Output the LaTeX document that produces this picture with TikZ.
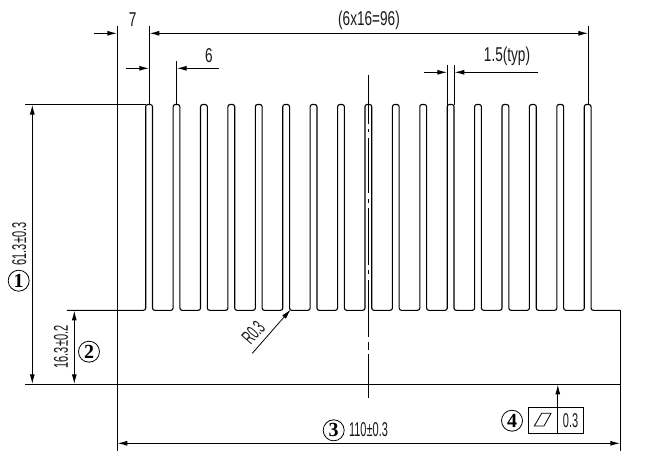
\documentclass[tikz,border=0pt]{standalone}
\usepackage{fontspec}
\setmainfont{Liberation Sans}
\newfontfamily\serifnum{Liberation Serif}
\usetikzlibrary{arrows.meta}
\tikzset{
  part/.style={line width=1.1pt,black},
  dimline/.style={line width=1.1pt,black},
  headtip/.tip={Latex[length=10pt,width=5pt]},
  tip/.style={-headtip},
  twotip/.style={headtip-headtip},
  dimtext/.style={inner sep=0pt,font=\fontsize{20}{20}\selectfont,text=black!90},
  callout/.style={circle,draw,line width=.8pt,minimum size=21pt,inner sep=0pt,font=\serifnum\bfseries\fontsize{20}{20}\selectfont},
}
\newcommand{\nar}[1]{\scalebox{0.68}[1]{#1}}
\newcommand{\narr}[1]{\scalebox{0.55}[1]{#1}}
\begin{document}
\begin{tikzpicture}[x=1pt,y=-1pt]
\useasboundingbox (0,0) rectangle (648,466);
\fill[white] (0,0) rectangle (648,466);
% key coordinates
\coordinate (L) at (117.3,384.3);
\coordinate (R) at (620.3,384.3);
\coordinate (Top) at (145.7,104.5);
% profile
\def\pitch{27.41}
\draw[part,rounded corners=2.2pt]
  (67,310.3) -- (145.7,310.3)
  \foreach \i in {0,...,16} {
    -- ({145.7+\pitch*\i},104.5) -- ({152.5+\pitch*\i},104.5) -- ({152.5+\pitch*\i},310.3)
    -- ({\i<16 ? 145.7+\pitch*(\i+1) : 620.3},310.3)
  } ;
\draw[part] (620.3,310.3) -- (620.3,450.7);
\draw[part] (25.3,384.3) -- (620.3,384.3);
\draw[part] (25.3,104.5) -- (145.7,104.5);
\draw[part] (117.3,26) -- (117.3,450.7);
% centre line
\draw[part] (368.3,75) -- (368.3,398);
\draw[white,line width=1.8pt] (368.3,124) -- (368.3,128.5) (368.3,132) -- (368.3,138)
  (368.3,193) -- (368.3,199) (368.3,203) -- (368.3,208)
  (368.3,265) -- (368.3,270) (368.3,274) -- (368.3,280)
  (368.3,337) -- (368.3,342) (368.3,350) -- (368.3,354);
% extension lines
\draw[dimline] (149.3,26) -- (149.3,104.5);
\draw[dimline] (176.6,61) -- (176.6,104.5);
\draw[dimline] (588.4,26) -- (588.4,104.5);
\draw[dimline] (447.3,65) -- (447.3,104.5);
\draw[dimline] (454.3,65) -- (454.3,104.5);
% top dimensions
\coordinate (a1) at (94,33.3);
\coordinate (a2) at (117.3,33.3);
\coordinate (a3) at (149.3,33.3);
\coordinate (a4) at (588.4,33.3);
\draw[dimline,tip] (a1) -- (a2);
\draw[dimline,twotip] (a3) -- (a4);
\coordinate (b1) at (126,68.3);
\coordinate (b2) at (149.3,68.3);
\coordinate (b3) at (176.6,68.3);
\coordinate (b4) at (218.7,68.3);
\draw[dimline,tip] (b1) -- (b2);
\draw[dimline,tip] (b4) -- (b3);
\coordinate (c1) at (424,72.3);
\coordinate (c2) at (447.3,72.3);
\coordinate (c3) at (454.3,72.3);
\coordinate (c4) at (537.7,72.3);
\draw[dimline,tip] (c1) -- (c2);
\draw[dimline,tip] (c4) -- (c3);
% left dimensions
\coordinate (d1) at (32.3,104.5);
\coordinate (d2) at (32.3,384.3);
\draw[dimline,twotip] (d1) -- (d2);
\coordinate (e1) at (74.3,310.3);
\coordinate (e2) at (74.3,384.3);
\draw[dimline,twotip] (e1) -- (e2);
% bottom dimension
\coordinate (f1) at (117.3,443.3);
\coordinate (f2) at (620.3,443.3);
\draw[dimline,twotip] (f1) -- (f2);
% radius leader
\coordinate (g1) at (252.3,353.3);
\coordinate (g2) at (290.7,309.5);
\draw[line width=.8pt,tip] (g1) -- (g2);
% flatness frame
\node[draw,line width=.8pt,minimum width=28.7pt,minimum height=26pt,inner sep=0pt,anchor=north west] (fr1) at (528.3,407.3) {};
\node[draw,line width=.8pt,minimum width=26.3pt,minimum height=26pt,inner sep=0pt,anchor=north west,dimtext] (fr2) at (557,407.3) {\narr{0.3}};
\coordinate (h) at (fr1.north east);
\draw[dimline,tip] (h) -- (h |- R);
\draw[line width=.8pt] (534.3,426) -- (541.7,413.3) -- (551,413.3) -- (544,426) -- cycle;
% labels
\node[dimtext] (t7) at (132.7,20) {\nar{7}};
\node[dimtext] (t96) at (369,20) {\nar{(6x16=96)}};
\node[dimtext] (t6) at (209,56) {\nar{6}};
\node[dimtext] (t15) at (507,56) {\nar{1.5(typ)}};
\node[dimtext,rotate=90] (t61) at (19.3,244) {\narr{61.3±0.3}};
\node[dimtext,rotate=90] (t16) at (61,347) {\narr{16.3±0.2}};
\node[dimtext,rotate=49] (tR) at (253.3,332.7) {\narr{R0.3}};
\node[dimtext] (t110) at (368.5,430) {\narr{110±0.3}};
\node[callout] (n1) at (18.7,280.7) {1};
\node[callout] (n2) at (89,351.7) {2};
\node[callout] (n3) at (333.7,430.3) {3};
\node[callout] (n4) at (512,420.7) {4};
\end{tikzpicture}
\end{document}
